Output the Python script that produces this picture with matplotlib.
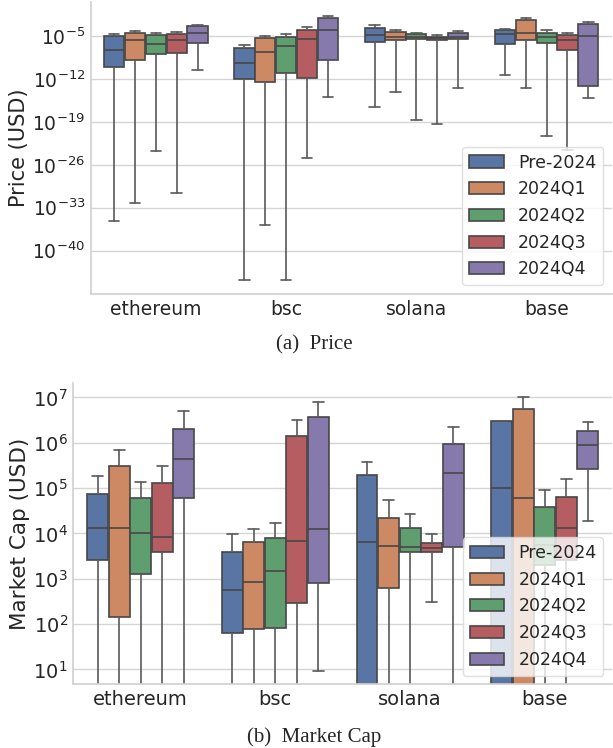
import matplotlib
matplotlib.use("Agg")
import matplotlib.pyplot as plt
from matplotlib.ticker import FixedLocator, LogFormatterSciNotation, NullLocator
from matplotlib.patches import Patch
import seaborn as sns

sns.set_theme(style="whitegrid")
plt.rcParams['font.family'] = ['DejaVu Sans']

chains = ['ethereum', 'bsc', 'solana', 'base']
periods = ['Pre-2024', '2024Q1', '2024Q2', '2024Q3', '2024Q4']
colors = ['#5875A4', '#CC8963', '#5F9E6E', '#B55D60', '#857AAB']

# log10 values, rows = chains, cols = periods
price_whislo = [[-35.2, -32.2, -23.7, -30.6, -10.5],
                [-44.8, -35.9, -44.8, -24.9, -14.9],
                [-16.6, -14.0, -18.7, -19.3, -13.5],
                [-11.3, -13.5, -21.2, -23.6, -15.0]]
price_q1 = [[-10.0, -8.8, -7.93, -7.66, -6.03],
            [-11.95, -12.5, -10.9, -11.8, -8.8],
            [-5.92, -5.65, -5.49, -5.54, -5.49],
            [-6.25, -5.65, -6.03, -7.17, -13.1]]
price_med = [[-7.28, -5.65, -6.2, -5.54, -4.4],
             [-9.34, -7.5, -6.6, -5.44, -3.9],
             [-4.72, -5.1, -5.05, -5.27, -5.16],
             [-4.67, -4.4, -5.16, -5.65, -4.95]]
price_q3 = [[-5.0, -4.4, -4.72, -4.57, -3.33],
            [-6.84, -5.27, -5.05, -3.9, -1.96],
            [-3.58, -4.3, -4.67, -5.05, -4.51],
            [-3.9, -2.34, -4.35, -4.72, -2.88]]
price_whishi = [[-4.67, -4.1, -4.35, -4.19, -3.05],
                [-6.35, -4.9, -4.6, -3.48, -1.58],
                [-3.2, -3.97, -4.4, -4.78, -4.13],
                [-3.8, -1.96, -3.97, -4.4, -2.56]]

# market cap (log10); -3 means the whisker runs off the bottom of the axis
mcap_whislo = [[-3, -3, -3, -3, -3],
               [-3, -3, -3, -3, 0.96],
               [-3, -3, -3, 2.48, -3],
               [-3, -3, -3, -3, 4.28]]
mcap_q1 = [[3.41, 2.15, 3.10, 3.58, 4.79],
           [1.81, 1.88, 1.92, 2.46, 2.90],
           [-1, 2.79, 3.59, 3.59, 3.70],
           [-1, -1, 3.30, 3.41, 5.41]]
mcap_med = [[4.11, 4.11, 4.0, 3.93, 5.65],
            [2.75, 2.93, 3.16, 3.84, 4.09],
            [3.80, 3.73, 3.71, 3.68, 5.33],
            [5.01, 4.78, 3.75, 4.12, 5.94]]
mcap_q3 = [[4.88, 5.48, 4.79, 5.12, 6.30],
           [3.60, 3.82, 3.89, 6.15, 6.57],
           [5.29, 4.34, 4.11, 3.79, 5.98],
           [6.47, 6.74, 4.58, 4.80, 6.25]]
mcap_whishi = [[5.26, 5.84, 5.14, 5.48, 6.69],
               [3.99, 4.10, 4.23, 6.51, 6.90],
               [5.57, 4.73, 4.42, 3.99, 6.35],
               [6.47, 7.01, 4.95, 5.19, 6.46]]


def draw(ax, lo, q1, med, q3, hi, ylim, yticks, ylabel, tick_fs, label_fs):
    width = 0.16
    for j, period in enumerate(periods):
        stats = []
        pos = []
        for i in range(len(chains)):
            stats.append(dict(whislo=10 ** lo[i][j], q1=10 ** q1[i][j], med=10 ** med[i][j],
                              q3=10 ** q3[i][j], whishi=10 ** hi[i][j], fliers=[]))
            pos.append(i + (j - 2) * width)
        ax.bxp(stats, positions=pos, widths=width * 0.97, patch_artist=True, showfliers=False,
               boxprops=dict(facecolor=colors[j], edgecolor='#474747', linewidth=1.2),
               medianprops=dict(color='#474747', linewidth=1.2),
               whiskerprops=dict(color='#595959', linewidth=1.2),
               capprops=dict(color='#595959', linewidth=1.2), capwidths=width * 0.5)
    ax.set_yscale('log')
    ax.set_ylim(10 ** ylim[0], 10 ** ylim[1])
    ax.yaxis.set_major_locator(FixedLocator([10.0 ** t for t in yticks]))
    ax.yaxis.set_major_formatter(LogFormatterSciNotation())
    ax.yaxis.set_minor_locator(NullLocator())
    ax.set_xlim(-0.5, len(chains) - 0.5)
    ax.set_xticks(range(len(chains)))
    ax.set_xticklabels(chains)
    ax.tick_params(axis='both', labelsize=tick_fs, length=0, pad=4)
    ax.xaxis.grid(False)
    ax.yaxis.grid(True, color='#d5d5d5', linewidth=1.0)
    ax.set_ylabel(ylabel, fontsize=label_fs, labelpad=2)
    for s in ['top', 'right']:
        ax.spines[s].set_visible(False)
    for s in ['left', 'bottom']:
        ax.spines[s].set_color('#d0d0d0')
        ax.spines[s].set_linewidth(1.2)
    handles = [Patch(facecolor=c, edgecolor='#474747', linewidth=1.2, label=p)
               for c, p in zip(colors, periods)]
    ax.legend(handles=handles, loc='lower right', fontsize=12.5, framealpha=0.8,
              edgecolor='#d8d8d8')


fig = plt.figure(figsize=(6.13, 7.48), dpi=100)
ax1 = fig.add_axes([0.148, 0.607, 0.850, 0.390])
ax2 = fig.add_axes([0.1196, 0.0851, 0.879, 0.4024])

draw(ax1, price_whislo, price_q1, price_med, price_q3, price_whishi,
     (-47.1, 0.6), [-40, -33, -26, -19, -12, -5], 'Price (USD)', 13.5, 15)
draw(ax2, mcap_whislo, mcap_q1, mcap_med, mcap_q3, mcap_whishi,
     (0.67, 7.31), [1, 2, 3, 4, 5, 6, 7], 'Market Cap (USD)', 14, 15.5)

fig.text(0.513, 1 - 345 / 748, '(a)  Price', ha='center', va='center',
         fontsize=15, family='Liberation Serif')
fig.text(0.513, 1 - 737 / 748, '(b)  Market Cap', ha='center', va='center',
         fontsize=15, family='Liberation Serif')

fig.savefig('out.png', dpi=100)
